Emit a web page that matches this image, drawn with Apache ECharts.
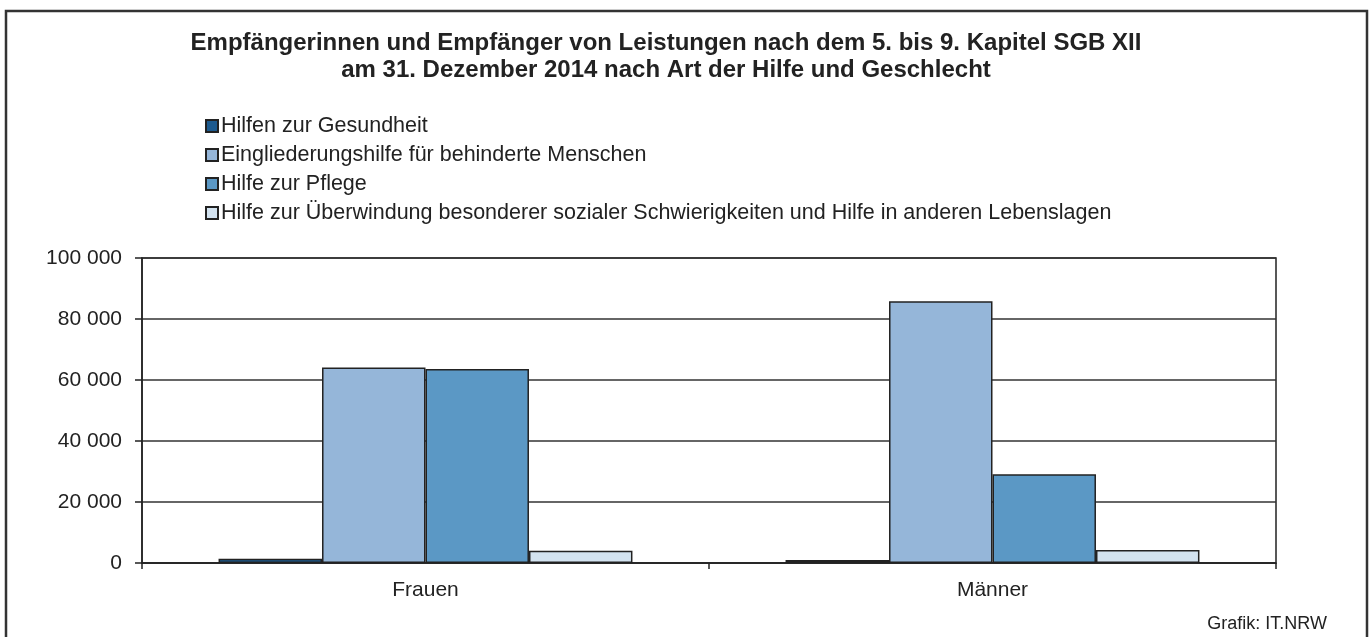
<!DOCTYPE html>
<html>
<head>
<meta charset="utf-8">
<script src="https://cdn.jsdelivr.net/npm/echarts@6/dist/echarts.min.js"></script>
<style>
  html, body { margin: 0; padding: 0; background: #fff; }
  #chart { width: 1371px; height: 637px; }
</style>
</head>
<body>
<div id="chart"></div>
<script>
// Kategorien und Werte
var categories = ["Frauen", "Männer"];
var seriesNames = [
  "Hilfen zur Gesundheit",
  "Eingliederungshilfe für behinderte Menschen",
  "Hilfe zur Pflege",
  "Hilfe zur Überwindung besonderer sozialer Schwierigkeiten und Hilfe in anderen Lebenslagen"
];
var gesundheit = [1400, 1000];
var eingliederung = [64100, 85800];
var pflege = [63600, 29100];
var sonstige = [4000, 4300];
var colors = ["#1d5a8e", "#95b6d9", "#5b98c5", "#d3e3f0"];

var chart = echarts.init(document.getElementById("chart"));

function fmt(v) {
  // Tausendertrennzeichen als Leerzeichen
  return String(v).replace(/\B(?=(\d{3})+(?!\d))/g, " ");
}

function makeSeries(name, data, color) {
  return {
    name: name,
    type: "bar",
    data: data,
    barGap: 0,
    barCategoryGap: "27%",
    itemStyle: { color: color, borderColor: "#222", borderWidth: 1.5 },
    emphasis: { disabled: true },
    animation: false
  };
}

chart.setOption({
  animation: false,
  textStyle: { fontFamily: "Liberation Sans, Arial, sans-serif" },
  title: {
    text: "Empfängerinnen und Empfänger von Leistungen nach dem 5. bis 9. Kapitel SGB XII\nam 31. Dezember 2014 nach Art der Hilfe und Geschlecht",
    left: 661,
    top: 25,
    textAlign: "center",
    textStyle: {
      fontFamily: "Liberation Sans, Arial, sans-serif",
      fontSize: 24,
      fontWeight: "bold",
      color: "#222",
      lineHeight: 27
    }
  },
  legend: {
    orient: "vertical",
    left: 205,
    top: 115,
    padding: 0,
    itemWidth: 12,
    itemHeight: 12,
    itemGap: 7,
    icon: "rect",
    data: seriesNames,
    textStyle: { fontSize: 21.5, color: "#222", lineHeight: 22, padding: [0, 0, 0, -2] }
  },
  grid: {
    left: 142,
    right: 95,
    top: 258,
    bottom: 74,
    show: true,
    borderColor: "#222",
    borderWidth: 1.5
  },
  xAxis: {
    type: "category",
    data: categories,
    axisLine: { lineStyle: { color: "#222", width: 1.5 } },
    axisTick: { show: true, length: 6, lineStyle: { color: "#222", width: 1.5 } },
    axisLabel: { fontSize: 21, color: "#222", margin: 17 }
  },
  yAxis: {
    type: "value",
    min: 0,
    max: 100000,
    interval: 20000,
    axisLine: { show: true, lineStyle: { color: "#222", width: 1.5 } },
    axisTick: { show: true, length: 7, lineStyle: { color: "#222", width: 1.5 } },
    axisLabel: { fontSize: 21, color: "#222", margin: 20, formatter: fmt },
    splitLine: { lineStyle: { color: "#333", width: 1.5 } }
  },
  graphic: [
    {
      type: "rect",
      shape: { x: 6, y: 11, width: 1361, height: 640 },
      style: { fill: null, stroke: "#333", lineWidth: 2.5 },
      silent: true
    },
    {
      type: "text",
      right: 44,
      top: 615,
      style: { text: "Grafik: IT.NRW", fontSize: 18, fill: "#222", fontFamily: "Liberation Sans, Arial, sans-serif" }
    }
  ],
  series: [
    makeSeries(seriesNames[0], gesundheit, colors[0]),
    makeSeries(seriesNames[1], eingliederung, colors[1]),
    makeSeries(seriesNames[2], pflege, colors[2]),
    makeSeries(seriesNames[3], sonstige, colors[3])
  ]
});
</script>
</body>
</html>
